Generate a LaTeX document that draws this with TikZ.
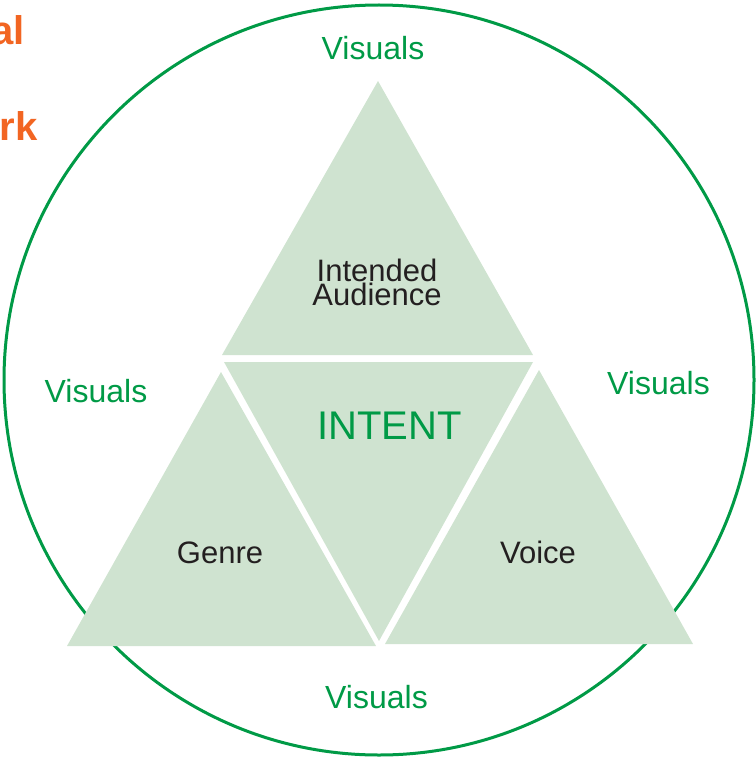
\documentclass[tikz,border=0pt]{standalone}
\usepackage{fontspec}
\setmainfont{Liberation Sans}
\definecolor{ringgreen}{RGB}{0,154,70}
\definecolor{trifill}{RGB}{207,227,208}
\definecolor{darktext}{RGB}{35,31,32}
\definecolor{orangetext}{RGB}{242,101,34}
\begin{document}
\begin{tikzpicture}[x=1pt,y=-1pt,
  tri/.style={fill=trifill},
  vis/.style={text=ringgreen, font=\fontsize{32}{32}\selectfont, inner sep=0pt, anchor=base},
  lab/.style={text=darktext, font=\fontsize{31}{24.5}\selectfont, inner sep=0pt, anchor=base, align=center},
  big/.style={text=ringgreen, font=\fontsize{40}{40}\selectfont, inner sep=0pt, anchor=base},
  orng/.style={text=orangetext, font=\bfseries\fontsize{40}{40}\selectfont, inner sep=0pt, anchor=base east}]
\useasboundingbox (0,0) rectangle (755,757);
% ring
\node[circle, draw=ringgreen, line width=3pt, minimum size=750pt, inner sep=0pt] (ring) at (379,380) {};
% triangles
\fill[tri] (378,81) -- (222,355) -- (533,355) -- cycle;
\fill[tri] (224,362) -- (533,362) -- (379,641) -- cycle;
\fill[tri] (221,372) -- (67,646) -- (376,646) -- cycle;
\fill[tri] (539,370) -- (385,644) -- (693,644) -- cycle;
% labels
\node[lab] (aud) at (377,305.5) {Intended\\Audience};
\node[big] (intent) at (389.5,439) {INTENT};
\node[lab] (genre) at (220,563) {Genre};
\node[lab] (voice) at (538,563) {Voice};
\node[vis] (vtop) at (373,60) {Visuals};
\node[vis] (vleft) at (96,402) {Visuals};
\node[vis] (vright) at (658.5,394) {Visuals};
\node[vis] (vbot) at (376.5,708) {Visuals};
\node[orng] (o1) at (25,45) {al};
\node[orng] (o2) at (38,140) {rk};
\end{tikzpicture}
\end{document}
